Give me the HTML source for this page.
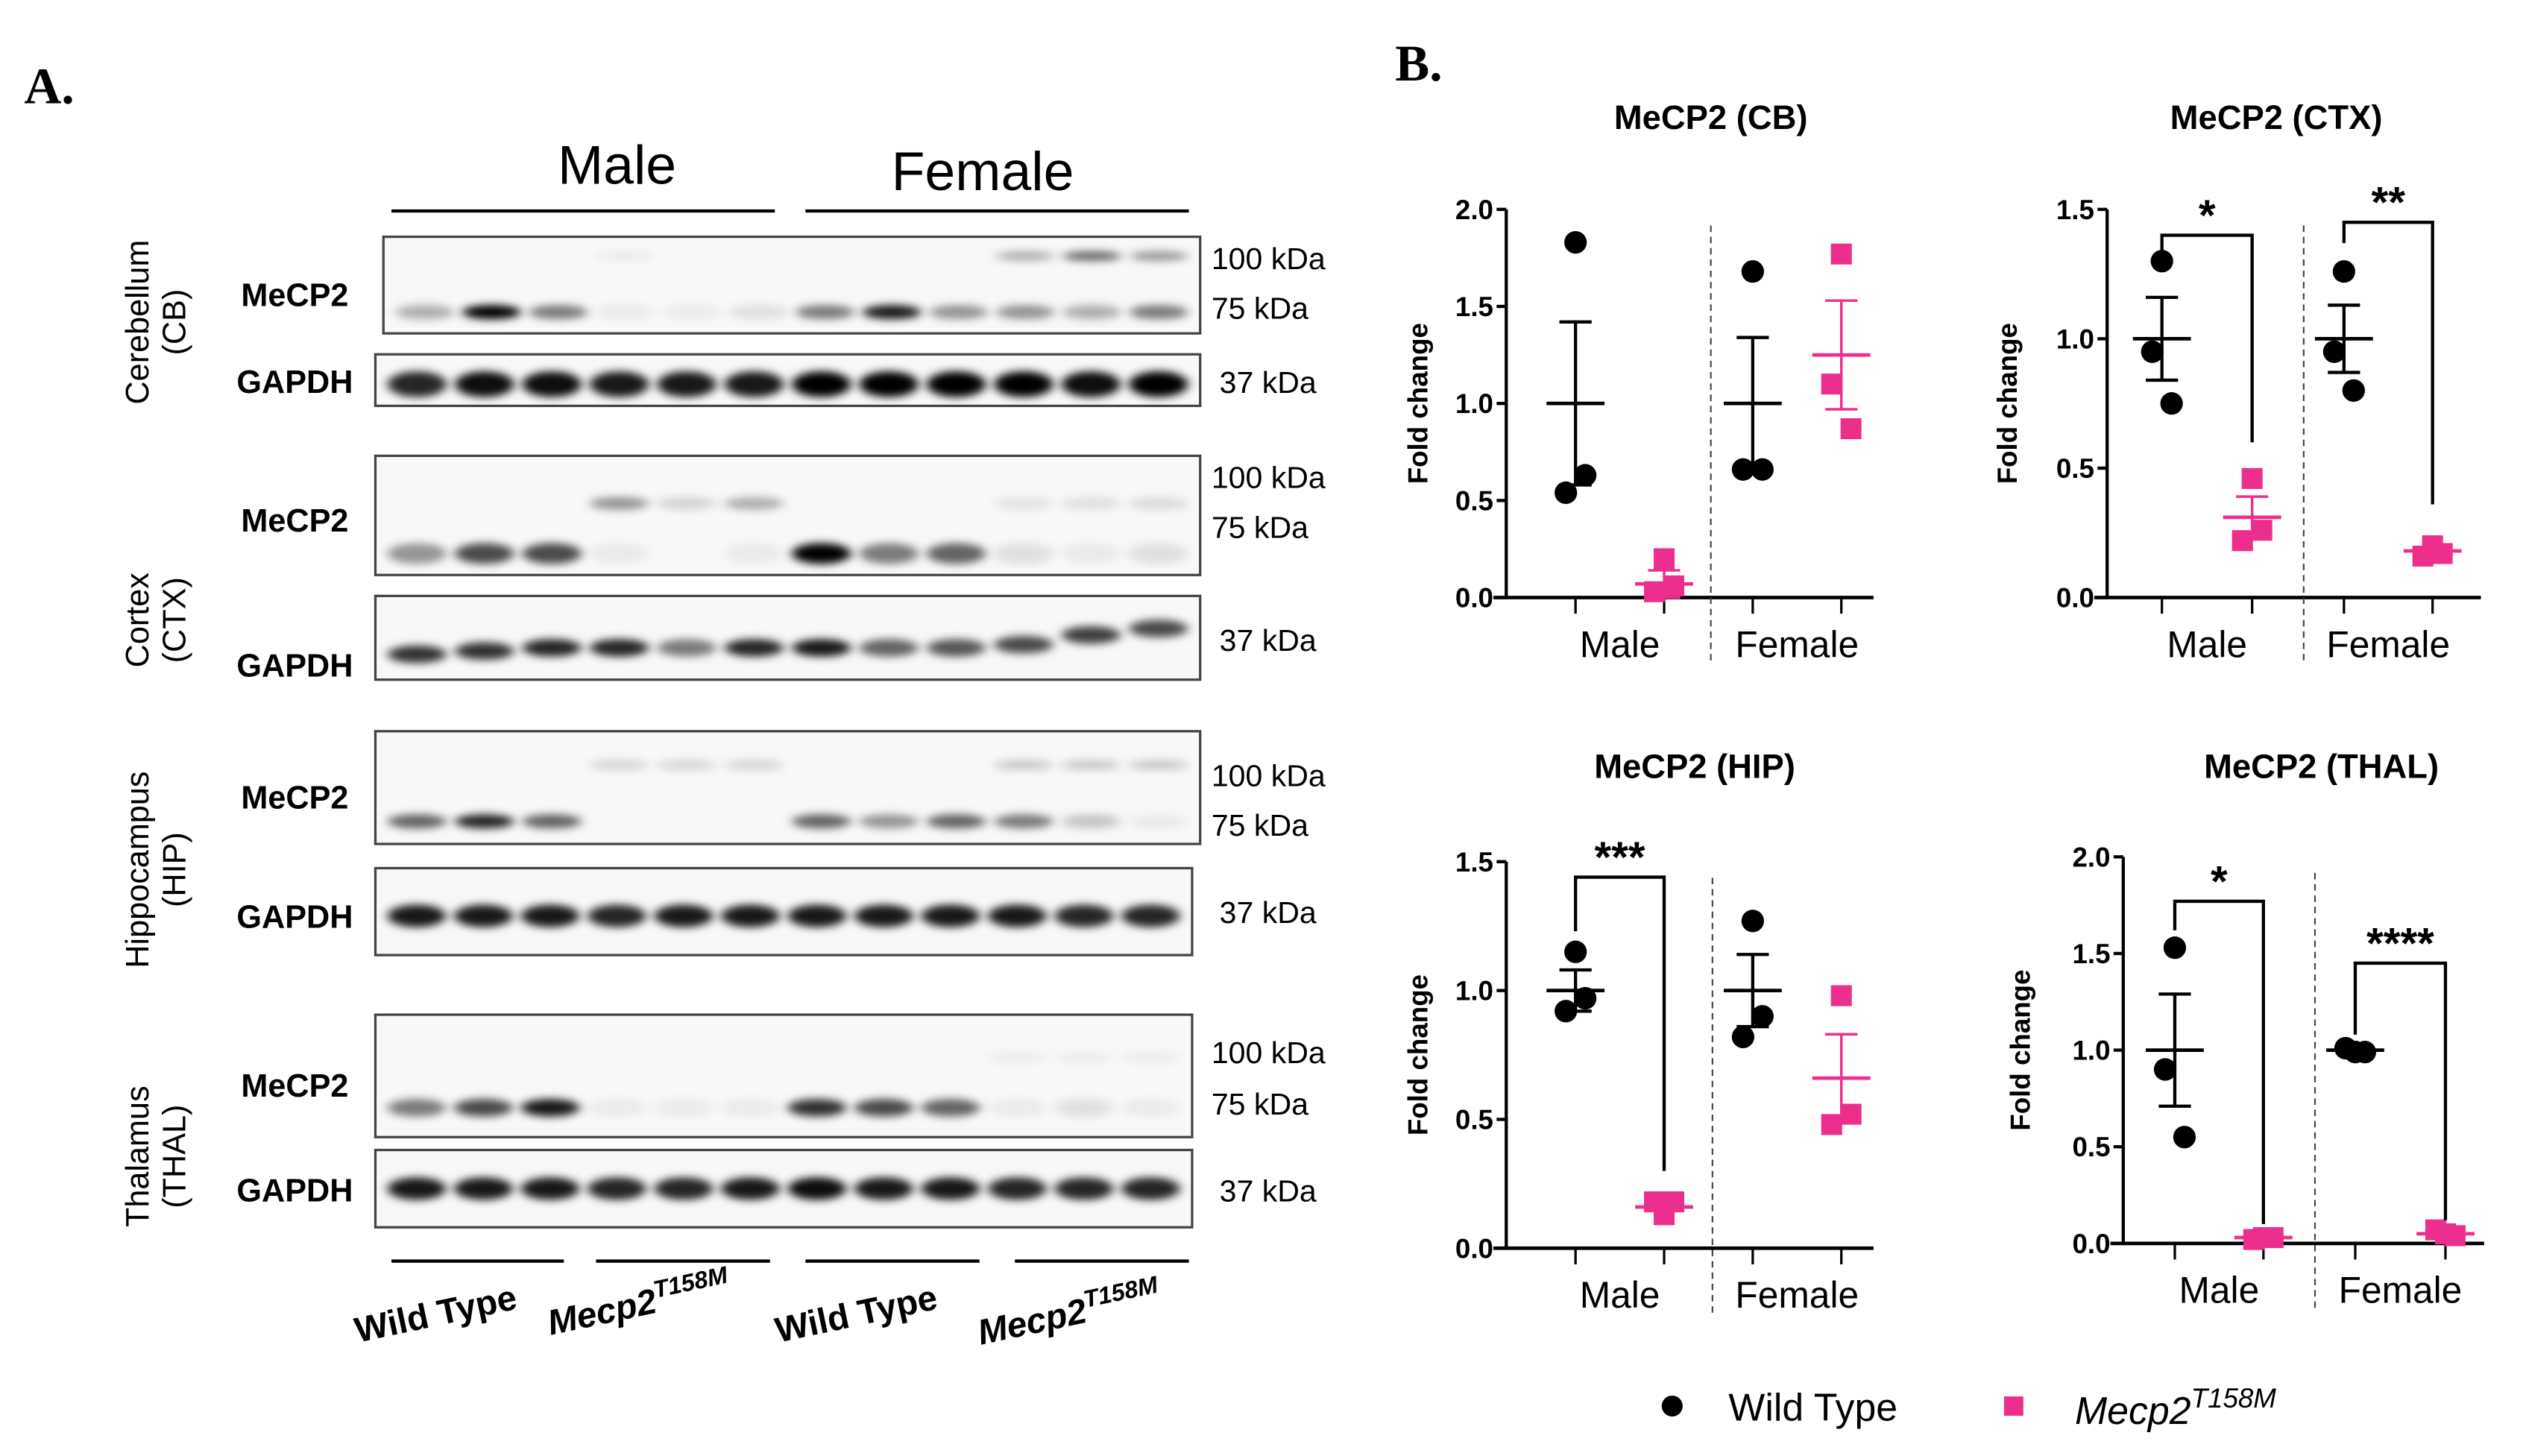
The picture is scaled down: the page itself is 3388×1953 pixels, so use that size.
<!DOCTYPE html>
<html><head><meta charset="utf-8"><style>
html,body{margin:0;padding:0;background:#fff;}
svg{display:block;}
text{font-family:"Liberation Sans",sans-serif;}
</style></head><body>
<svg id="fig" width="3388" height="1953" viewBox="0 0 1568 904" preserveAspectRatio="none" xmlns="http://www.w3.org/2000/svg">
<defs>
<filter id="blur" x="-50%" y="-100%" width="200%" height="300%"><feGaussianBlur stdDeviation="3.2 2.6"/></filter>
</defs>
<rect width="1568" height="904" fill="#fff"/>
<text x="15" y="64" font-family="Liberation Serif" font-weight="bold" font-size="32" style="font-family:'Liberation Serif',serif">A.</text>
<text x="866" y="50" font-weight="bold" font-size="32" style="font-family:'Liberation Serif',serif">B.</text>
<text x="383" y="114" font-size="34" text-anchor="middle">Male</text>
<text x="610" y="118" font-size="34" text-anchor="middle">Female</text>
<line x1="243" y1="131" x2="481" y2="131" stroke="#000" stroke-width="2"/>
<line x1="500" y1="131" x2="738" y2="131" stroke="#000" stroke-width="2"/>
<g id="blots"></g>
<g id="charts"></g>
<g>
<circle cx="1038" cy="873" r="6.5" fill="#000"/>
<text x="1073" y="882" font-size="24">Wild Type</text>
<rect x="1244" y="867" width="12" height="12" fill="#EC2F8C"/>
<text x="1288" y="884" font-size="24" font-style="italic">Mecp2<tspan dy="-10" font-size="17">T158M</tspan></text>
</g>
</svg>
<script>
// ---------- Blot data ----------
const cbUpper  = [0,0,0,0.05,0,0,0,0,0,0.3,0.6,0.4];
const cbLower  = [0.3,1,0.5,0.05,0.05,0.1,0.5,0.9,0.4,0.4,0.3,0.5];
const cbGapdh  = [0.85,0.95,0.95,0.9,0.9,0.9,1,1,1,1,0.95,1];
const ctxUpper = [0,0,0,0.4,0.15,0.3,0,0,0,0.08,0.1,0.12];
const ctxLower = [0.4,0.7,0.7,0.05,0,0.05,1,0.5,0.6,0.1,0.05,0.1];
const ctxGapdh = [0.8,0.8,0.85,0.85,0.5,0.85,0.9,0.6,0.65,0.7,0.75,0.7];
const hipUpper = [0,0,0,0.15,0.15,0.15,0,0,0,0.2,0.2,0.2];
const hipLower = [0.6,0.85,0.6,0,0,0,0.6,0.4,0.6,0.5,0.2,0.05];
const hipGapdh = [0.9,0.9,0.9,0.85,0.9,0.9,0.9,0.9,0.9,0.9,0.85,0.85];
const thUpper  = [0,0,0,0,0,0,0,0,0,0.05,0.05,0.05];
const thLower  = [0.5,0.7,0.9,0.05,0.05,0.05,0.8,0.7,0.6,0.05,0.1,0.05];
const thGapdh  = [0.9,0.9,0.9,0.85,0.85,0.9,0.95,0.9,0.9,0.85,0.85,0.85];

// ---------- Chart data ----------
const groups = ['Male WT','Male Mecp2','Female WT','Female Mecp2'];
const cbVals  = [[1.83,0.54,0.63],[0.20,0.03,0.06],[1.68,0.66,0.66],[1.77,1.10,0.87]];
const cbMean  = [1.0,0.07,1.0,1.25];
const cbSem   = [0.42,0.07,0.34,0.28];
const ctxVals = [[1.30,0.95,0.75],[0.46,0.22,0.26],[1.26,0.95,0.80],[0.20,0.16,0.17]];
const ctxMean = [1.0,0.31,1.0,0.18];
const ctxSem  = [0.16,0.08,0.13,0.01];
const hipVals = [[1.15,0.92,0.97],[0.13,0.18,0.18],[1.27,0.82,0.90],[0.98,0.48,0.52]];
const hipMean = [1.0,0.16,1.0,0.66];
const hipSem  = [0.08,0.01,0.14,0.17];
const thVals  = [[1.53,0.90,0.55],[0.03,0.02,0.03],[0.99,1.01,0.99],[0.05,0.07,0.04]];
const thMean  = [1.0,0.03,1.0,0.05];
const thSem   = [0.29,0.003,0.005,0.01];
const ticks15 = ['0.0','0.5','1.0','1.5'];
const ticks20 = ['0.0','0.5','1.0','1.5','2.0'];

const NS='http://www.w3.org/2000/svg';
function el(tag,attrs,parent){const e=document.createElementNS(NS,tag);for(const k in attrs)e.setAttribute(k,attrs[k]);parent.appendChild(e);return e;}

// ---------- Blots ----------
const blotG=document.getElementById('blots');
function blot(name,x,y,w,h,bands){
  const g=el('g',{},blotG);
  
  
  el('rect',{x:x,y:y,width:w,height:h,fill:'#f8f8f8',stroke:'#444','stroke-width':1.5},g);
  const lw=(w-10)/12;
  bands.forEach(b=>{
    b.vals.forEach((v,i)=>{
      if(v<=0)return;
      const cx=x+5+lw*(i+0.5);
      const dy=b.slope?b.slope[i]:0;
      const e=el('ellipse',{cx:cx,cy:y+h*b.pos+dy,rx:lw*0.44,ry:b.ry,fill:'#000','fill-opacity':v,filter:'url(#blur)'},g);
      
      
    });
  });
}
blot('cb-mecp2-blot',238,147,507,60,[{vals:cbUpper,pos:0.2,ry:3},{vals:cbLower,pos:0.78,ry:4.5}]);
blot('cb-gapdh-blot',233,220,512,32,[{vals:cbGapdh,pos:0.58,ry:8}]);
blot('ctx-mecp2-blot',233,283,512,74,[{vals:ctxUpper,pos:0.4,ry:4},{vals:ctxLower,pos:0.82,ry:6.5}]);
blot('ctx-gapdh-blot',233,370,512,52,[{vals:ctxGapdh,pos:0.62,ry:5.5,slope:[4,2,0,0,0,0,0,0,0,-2,-8,-12]}]);
blot('hip-mecp2-blot',233,454,512,70,[{vals:hipUpper,pos:0.3,ry:3},{vals:hipLower,pos:0.8,ry:4.5}]);
blot('hip-gapdh-blot',233,539,507,54,[{vals:hipGapdh,pos:0.55,ry:7}]);
blot('thal-mecp2-blot',233,630,507,76,[{vals:thUpper,pos:0.35,ry:3},{vals:thLower,pos:0.76,ry:5.5}]);
blot('thal-gapdh-blot',233,714,507,48,[{vals:thGapdh,pos:0.5,ry:7}]);

function txt(name,x,y,s,size,opts,parent){
  const t=el('text',Object.assign({x:x,y:y,'font-size':size},opts||{}),parent||blotG);
  t.textContent=s;
  
  
  return t;
}
[['cb',183,190,244],['ctx',183,330,420],['hip',183,502,576],['thal',183,681,746]].forEach(r=>{
  txt(r[0]+'-mecp2-label',r[1],r[2],'MeCP2',20,{'font-weight':'bold','text-anchor':'middle'});
  txt(r[0]+'-gapdh-label',r[1],r[3],'GAPDH',20,{'font-weight':'bold','text-anchor':'middle'});
});
[[167,198,244],[303,334,404],[488,519,573],[660,692,746]].forEach((r,i)=>{
  const n=['cb','ctx','hip','thal'][i];
  txt(n+'-100kda',752,r[0],'100 kDa',19);
  txt(n+'-75kda',752,r[1],'75 kDa',19);
  txt(n+'-37kda',757,r[2],'37 kDa',19);
});
[['cerebellum-label',200,'Cerebellum','(CB)'],['cortex-label',385,'Cortex','(CTX)'],['hippocampus-label',540,'Hippocampus','(HIP)'],['thalamus-label',718,'Thalamus','(THAL)']].forEach(r=>{
  const t=el('text',{x:0,y:0,'font-size':20,'text-anchor':'middle',transform:'translate(92,'+r[1]+') rotate(-90)'},blotG);
  
  
  const a=el('tspan',{x:0,dy:0},t);a.textContent=r[2];
  const b=el('tspan',{x:0,dy:23},t);b.textContent=r[3];
});
[[243,350],[370,478],[500,608],[630,738]].forEach((r,i)=>{
  const l=el('line',{x1:r[0],y1:783,x2:r[1],y2:783,stroke:'#000','stroke-width':2},blotG);
  
  
});
[[272,823,'Wild Type',false],[398,817,'Mecp2',true],[533,823,'Wild Type',false],[665,823,'Mecp2',true]].forEach((r,i)=>{
  const t=el('text',{x:0,y:0,'font-size':22,'font-weight':'bold','font-style':r[3]?'italic':'normal','text-anchor':'middle',transform:'translate('+r[0]+','+r[1]+') rotate(-12)'},blotG);
  
  
  const a=el('tspan',{},t);a.textContent=r[2];
  if(r[3]){const b=el('tspan',{dy:-9,'font-size':15},t);b.textContent='T158M';}
});

// ---------- Charts ----------
const chartG=document.getElementById('charts');
const PINK='#EC2F8C';
function chart(cfg){
  const g=el('g',{},chartG);
  
  
  const ymax=cfg.ticks.length>4?2.0:1.5;
  const Y=v=>cfg.y0-(v/ymax)*(cfg.y0-cfg.ytop);
  const X=i=>cfg.xs[i];
  const t=el('text',{x:cfg.titleX,y:cfg.titleY,'font-size':21,'font-weight':'bold','text-anchor':'middle'},g);
  t.textContent=cfg.title;
  
  
  const ya=el('line',{x1:cfg.ax,y1:cfg.y0,x2:cfg.ax,y2:cfg.ytop,stroke:'#000','stroke-width':2},g);
  
  
  const xa=el('line',{x1:cfg.ax-8,y1:cfg.y0,x2:cfg.axEnd,y2:cfg.y0,stroke:'#000','stroke-width':2.2},g);
  
  
  cfg.ticks.forEach(s=>{
    const v=parseFloat(s);
    el('line',{x1:cfg.ax-6,y1:Y(v),x2:cfg.ax,y2:Y(v),stroke:'#000','stroke-width':2},g);
    const tl=el('text',{x:cfg.ax-8,y:Y(v)+6,'font-size':17,'font-weight':'bold','text-anchor':'end'},g);
    tl.textContent=s;
    
    
  });
  cfg.xs.forEach(x=>el('line',{x1:x,y1:cfg.y0,x2:x,y2:cfg.y0+10,stroke:'#000','stroke-width':1.5},g));
  const dl=el('line',{x1:cfg.dash,y1:cfg.ytop+10,x2:cfg.dash,y2:cfg.y0+40,stroke:'#444','stroke-width':1,'stroke-dasharray':'4,3'},g);
  
  
  const yl=el('text',{x:0,y:0,'font-size':17,'font-weight':'bold','text-anchor':'middle',transform:'translate('+cfg.ylx+','+((cfg.y0+cfg.ytop)/2)+') rotate(-90)'},g);
  yl.textContent='Fold change';
  
  
  const ml=el('text',{x:(X(0)+X(1))/2,y:cfg.y0+37,'font-size':23,'text-anchor':'middle'},g);
  ml.textContent='Male';
  
  
  const fl=el('text',{x:(X(2)+X(3))/2,y:cfg.y0+37,'font-size':23,'text-anchor':'middle'},g);
  fl.textContent='Female';
  
  
  const off=[0,-6,6];
  cfg.vals.forEach((arr,gi)=>{
    const mut=gi%2===1;
    const col=mut?PINK:'#000';
    arr.forEach((v,k)=>{
      const cx=X(gi)+off[k];
      let m;
      if(mut){m=el('rect',{x:cx-6.5,y:Y(v)-6.5,width:13,height:13,fill:col},g);}
      else{m=el('circle',{cx:cx,cy:Y(v),r:7,fill:col},g);}
      
      
    });
    const mean=cfg.mean[gi],sem=cfg.sem[gi];
    const sw=mut?1.6:2;
    const mb=el('line',{x1:X(gi)-18,y1:Y(mean),x2:X(gi)+18,y2:Y(mean),stroke:col,'stroke-width':2.2},g);
    
    
    const eb=el('line',{x1:X(gi),y1:Y(mean+sem),x2:X(gi),y2:Y(Math.max(0,mean-sem)),stroke:col,'stroke-width':sw},g);
    
    
    [mean+sem,Math.max(0,mean-sem)].forEach(v=>el('line',{x1:X(gi)-10,y1:Y(v),x2:X(gi)+10,y2:Y(v),stroke:col,'stroke-width':sw},g));
  });
  (cfg.sig||[]).forEach(s=>{
    const x1=X(s.a),x2=X(s.b),yt=Y(s.top);
    const p=el('path',{d:'M'+x1+','+Y(s.l)+' V'+yt+' H'+x2+' V'+Y(s.r),fill:'none',stroke:'#000','stroke-width':2},g);
    
    
    const st=el('text',{x:(x1+x2)/2,y:yt-3,'font-size':27,'font-weight':'bold','text-anchor':'middle'},g);
    st.textContent=s.label;
    
    
  });
}
chart({name:'chart-cb',title:'MeCP2 (CB)',titleX:1062,titleY:80,ax:935,axEnd:1143+20,y0:371,ytop:130,xs:[978,1033,1088,1143],dash:1062,ylx:886,ticks:ticks20,vals:cbVals,mean:cbMean,sem:cbSem});
chart({name:'chart-ctx',title:'MeCP2 (CTX)',titleX:1413,titleY:80,ax:1308,axEnd:1540,y0:371,ytop:130,xs:[1342,1398,1455,1510],dash:1430,ylx:1252,ticks:ticks15,vals:ctxVals,mean:ctxMean,sem:ctxSem,
  sig:[{a:0,b:1,top:1.4,l:1.33,r:0.6,label:'*'},{a:2,b:3,top:1.45,l:1.37,r:0.36,label:'**'}]});
chart({name:'chart-hip',title:'MeCP2 (HIP)',titleX:1052,titleY:483,ax:935,axEnd:1143+20,y0:775,ytop:535,xs:[978,1033,1088,1143],dash:1063,ylx:886,ticks:ticks15,vals:hipVals,mean:hipMean,sem:hipSem,
  sig:[{a:0,b:1,top:1.44,l:1.23,r:0.3,label:'***'}]});
chart({name:'chart-thal',title:'MeCP2 (THAL)',titleX:1441,titleY:483,ax:1318,axEnd:1542,y0:772,ytop:532,xs:[1350,1405,1462,1518],dash:1437,ylx:1260,ticks:ticks20,vals:thVals,mean:thMean,sem:thSem,
  sig:[{a:0,b:1,top:1.77,l:1.62,r:0.1,label:'*'},{a:2,b:3,top:1.45,l:1.08,r:0.12,label:'****'}]});
</script>
</body></html>
